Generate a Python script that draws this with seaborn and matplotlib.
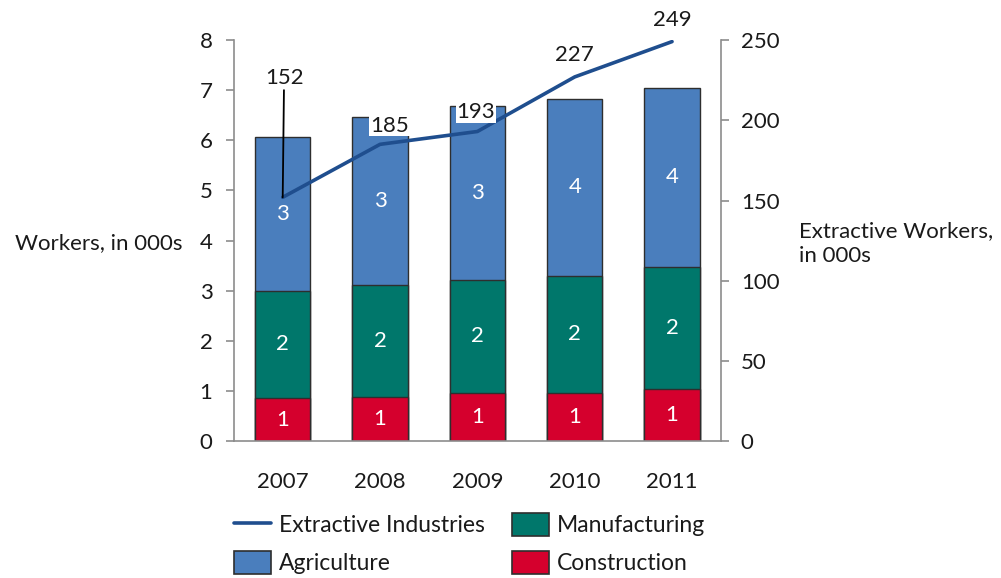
import matplotlib
matplotlib.use("Agg")
import matplotlib.pyplot as plt
from matplotlib.lines import Line2D
from matplotlib.patches import Patch
import numpy as np
import seaborn as sns

# Workers by sector (thousands) and extractive-industry workers (thousands)
years = ["2007", "2008", "2009", "2010", "2011"]
construction = [0.86, 0.88, 0.96, 0.96, 1.05]
manufacturing = [2.14, 2.24, 2.26, 2.34, 2.43]
agriculture = [3.07, 3.35, 3.46, 3.52, 3.56]
extractive = [152, 185, 193, 227, 249]

left_ticks = [0, 1, 2, 3, 4, 5, 6, 7, 8]
right_ticks = [0, 50, 100, 150, 200, 250]

C_AGRI = "#4a7ebd"
C_MANU = "#00776b"
C_CONS = "#d5002d"
C_LINE = "#1f4e8e"
C_EDGE = "#2e2e2e"
C_SPINE = "#8c8c8c"
TEXT = "#1a1a1a"

sns.set_theme(style="white")
plt.rcParams["font.family"] = ["Lato", "DejaVu Sans"]
FS = 16
LEG_FS = 16.5

fig = plt.figure(figsize=(10.01, 5.78), dpi=100)
ax = fig.add_axes([0.2338, 0.2365, 0.4862, 0.6943])

# Stacked bars: draw cumulative totals from the top layer down
cons = np.array(construction)
manu_top = cons + np.array(manufacturing)
agri_top = manu_top + np.array(agriculture)
bar_w = 0.57
for top, col in [(agri_top, C_AGRI), (manu_top, C_MANU), (cons, C_CONS)]:
    sns.barplot(x=years, y=top, color=col, saturation=1, width=bar_w,
                edgecolor=C_EDGE, linewidth=1.0, ax=ax)

# Segment value labels
for i in range(len(years)):
    for bottom, val in [(0, construction[i]), (cons[i], manufacturing[i]),
                        (manu_top[i], agriculture[i])]:
        ax.text(i, bottom + val / 2, f"{val:.0f}", ha="center", va="center",
                color="white", fontsize=FS)

ax.set_ylim(0, 8)
ax.set_xlim(-0.5, len(years) - 0.5)
ax.set_yticks(left_ticks)
ax.set_xlabel("")
ax.set_ylabel("Workers, in 000s", rotation=0, ha="right", va="center",
              fontsize=FS, color=TEXT)
ax.yaxis.set_label_coords(-0.105, 0.494)

for s in ["top", "right"]:
    ax.spines[s].set_visible(False)
for s in ["left", "bottom"]:
    ax.spines[s].set_color(C_SPINE)
    ax.spines[s].set_linewidth(1.2)
ax.tick_params(axis="y", direction="out", length=5.5, width=1.2, color=C_SPINE,
               pad=10, labelsize=FS, labelcolor=TEXT, left=True)
ax.tick_params(axis="x", length=0, pad=22, labelsize=FS, labelcolor=TEXT)

# Extractive industries on the secondary axis
ax2 = ax.twinx()
xpos = np.arange(len(years))
sns.lineplot(x=xpos, y=extractive, ax=ax2, color=C_LINE, linewidth=2.6)
ax2.set_ylim(0, 250)
ax.set_xlim(-0.5, len(years) - 0.5)
ax2.set_yticks(right_ticks)
ax2.set_ylabel("Extractive Workers,\nin 000s", rotation=0, ha="left",
               va="center", fontsize=FS, color=TEXT, linespacing=1.3)
ax2.yaxis.set_label_coords(1.1615, 0.4917)
for s in ["top", "left", "bottom"]:
    ax2.spines[s].set_visible(False)
ax2.spines["right"].set_color(C_SPINE)
ax2.spines["right"].set_linewidth(1.2)
ax2.tick_params(axis="y", direction="out", length=5.5, width=1.2, color=C_SPINE,
                pad=9, labelsize=FS, labelcolor=TEXT, right=True)

label_offsets = [(1, 86), (7, 13.5), (-1, 14), (0, 16), (0, 15.6)]
for i, (v, off) in enumerate(zip(extractive, label_offsets)):
    kw = {}
    if i == 0:
        kw["arrowprops"] = dict(arrowstyle="-", color="black", lw=1.3,
                                shrinkA=1, shrinkB=0)
    ax2.annotate(f"{v}", xy=(i, v), xytext=off, textcoords="offset points",
                 ha="center", va="center", fontsize=FS, color=TEXT,
                 bbox=dict(facecolor="white", edgecolor="none", pad=0.6),
                 **kw)

handles = [
    Line2D([0], [0], color=C_LINE, lw=2.6),
    Patch(facecolor=C_AGRI, edgecolor=C_EDGE, linewidth=1.2),
    Patch(facecolor=C_MANU, edgecolor=C_EDGE, linewidth=1.2),
    Patch(facecolor=C_CONS, edgecolor=C_EDGE, linewidth=1.2),
]
labels = ["Extractive Industries", "Agriculture", "Manufacturing", "Construction"]
fig.legend(handles, labels, ncol=2, loc="upper left",
           bbox_to_anchor=(234 / 1001, 1 - 513 / 578),
           bbox_transform=fig.transFigure, frameon=False, borderaxespad=0,
           borderpad=0, handlelength=1.6, handleheight=1.15,
           handletextpad=0.36, columnspacing=1.2, labelspacing=0.66,
           fontsize=LEG_FS, labelcolor=TEXT)

fig.savefig("out.png", dpi=100)
